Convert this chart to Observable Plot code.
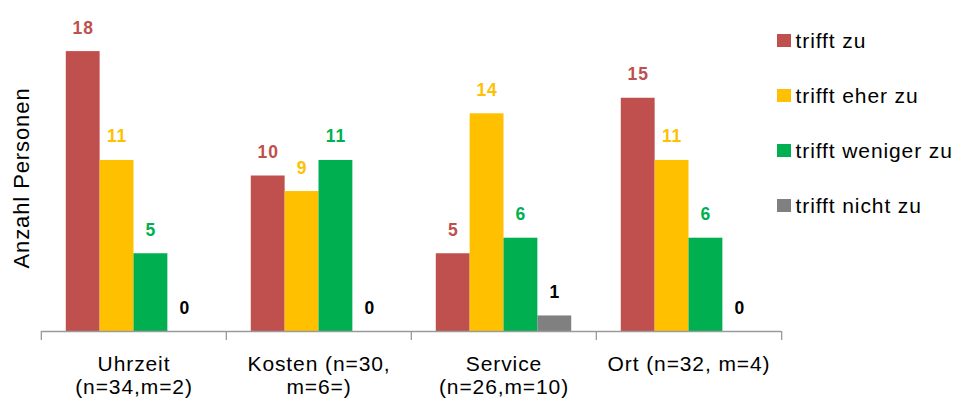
<!DOCTYPE html>
<html><head><meta charset="utf-8">
<script src="https://cdn.jsdelivr.net/npm/d3@7"></script>
<script src="https://cdn.jsdelivr.net/npm/@observablehq/plot@0.6"></script>
<style>
html,body{margin:0;padding:0;background:#fff;}
#wrap{position:relative;width:960px;height:399px;font-family:"Liberation Sans",Arial,sans-serif;overflow:hidden;}
#wrap svg text{letter-spacing:0.9px;}
#legend{position:absolute;left:777px;top:0;}
.lrow{position:absolute;left:0;display:flex;align-items:center;white-space:nowrap;height:24px;}
.lsw{width:13.5px;height:13.5px;display:inline-block;}
.ltx{margin-left:5px;font-size:21px;letter-spacing:0.9px;color:#000;line-height:24px;}
</style></head>
<body><div id="wrap"></div>
<script>
// ---- data ----
const groups = ["Uhrzeit", "Kosten", "Service", "Ort"];
const groupLabels = ["Uhrzeit\n(n=34,m=2)", "Kosten (n=30,\nm=6=)", "Service\n(n=26,m=10)", "Ort (n=32, m=4)"];
const series = ["trifft zu", "trifft eher zu", "trifft weniger zu", "trifft nicht zu"];
const seriesColors = ["#C0504D", "#FFC000", "#00B050", "#808080"];
const valuesTrifftZu = [18, 10, 5, 15];
const valuesTrifftEherZu = [11, 9, 14, 11];
const valuesTrifftWenigerZu = [5, 11, 6, 6];
const valuesTrifftNichtZu = [0, 0, 1, 0];
const yTitle = "Anzahl Personen";
const yDomain = [0, 20];

const seriesValues = [valuesTrifftZu, valuesTrifftEherZu, valuesTrifftWenigerZu, valuesTrifftNichtZu];
const rows = [];
series.forEach((s, si) => groups.forEach((g, gi) => rows.push({group: g, series: s, value: seriesValues[si][gi]})));

// ---- layout ----
const W = 960, H = 399, mL = 39, mR = 178, mT = 20, mB = 68;
const facetW = (W - mL - mR) / groups.length;
const barW = 34;
const padOuter = (facetW / barW - series.length) / 2;
const edgeOffset = padOuter * barW + barW / 2;
const axisColor = "#9a9a9a";
const font = "'Liberation Sans', Arial, sans-serif";

const chart = Plot.plot({
  width: W, height: H,
  marginLeft: mL, marginRight: mR, marginTop: mT, marginBottom: mB,
  style: {fontFamily: font, background: "white", overflow: "visible"},
  fx: {domain: groups, padding: 0, axis: null, label: null},
  x: {domain: series, paddingInner: 0, paddingOuter: padOuter, round: false, axis: null},
  y: {domain: yDomain, axis: null},
  color: {domain: series, range: seriesColors},
  marks: [
    Plot.barY(rows, {fx: "group", x: "series", y: "value", fill: "series", inset: 0}),
    Plot.ruleY(groups, {fx: d => d, y: () => 0, stroke: axisColor, strokeWidth: 1.3}),
    Plot.ruleX(groups, {fx: d => d, x: () => series[0], dx: -edgeOffset, y1: () => 0, y2: () => 0, insetBottom: -9, stroke: axisColor, strokeWidth: 1.3}),
    Plot.ruleX([groups[groups.length - 1]], {fx: d => d, x: () => series[series.length - 1], dx: edgeOffset, y1: () => 0, y2: () => 0, insetBottom: -9, stroke: axisColor, strokeWidth: 1.3}),
    Plot.text(rows, {filter: d => d.series !== series[3], fx: "group", x: "series", y: "value", text: d => String(d.value), fill: "series", fontWeight: "bold", fontSize: 17.5, lineAnchor: "bottom", dy: -18}),
    Plot.text(rows, {filter: d => d.series === series[3], fx: "group", x: "series", y: "value", text: d => String(d.value), fill: "#000", fontWeight: "bold", fontSize: 17.5, lineAnchor: "bottom", dy: -18}),
    Plot.text(groups, {fx: d => d, text: (d, i) => groupLabels[groups.indexOf(d)], frameAnchor: "bottom", lineAnchor: "top", dy: 23, fontSize: 21, lineHeight: 1.1, fill: "#000"}),
    Plot.text([groups[0]], {fx: d => d, text: () => yTitle, frameAnchor: "left", textAnchor: "middle", rotate: -90, dx: -20, dy: 2, fontSize: 22, fill: "#000"})
  ]
});
const wrap = document.getElementById("wrap");
wrap.appendChild(chart);

// legend
const legend = document.createElement("div");
legend.id = "legend";
series.forEach((s, i) => {
  const row = document.createElement("div");
  row.className = "lrow";
  row.style.top = (40.5 + i * 55 - 12) + "px";
  const sw = document.createElement("span");
  sw.className = "lsw";
  sw.style.background = seriesColors[i];
  const tx = document.createElement("span");
  tx.className = "ltx";
  tx.textContent = s;
  row.appendChild(sw); row.appendChild(tx);
  legend.appendChild(row);
});
wrap.appendChild(legend);
</script>
</body></html>
